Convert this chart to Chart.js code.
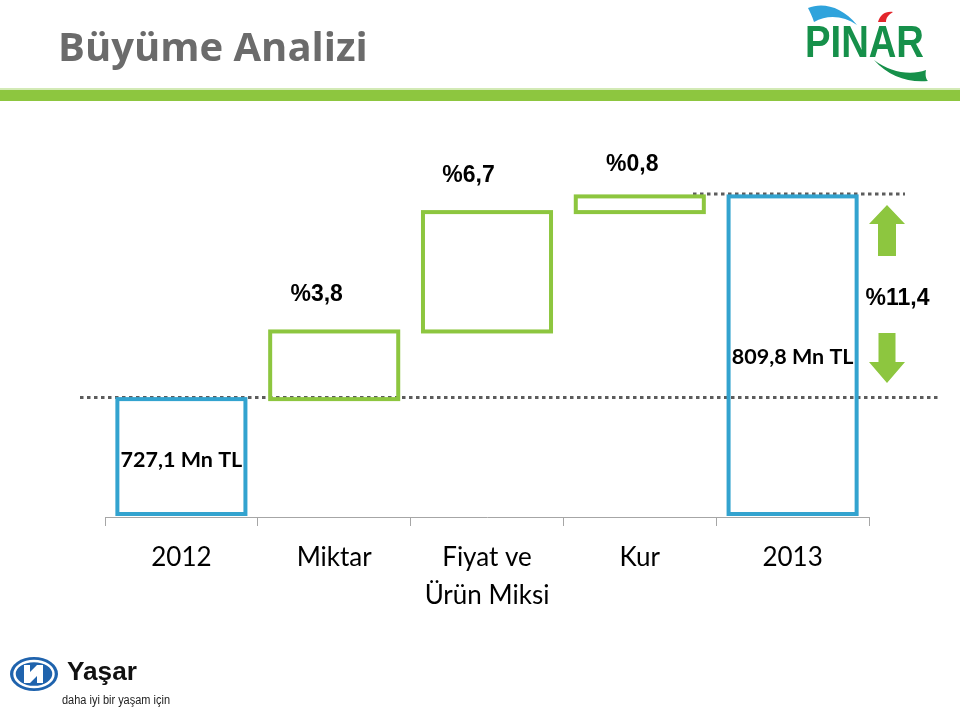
<!DOCTYPE html>
<html>
<head>
<meta charset="utf-8">
<script src="https://cdn.jsdelivr.net/npm/chart.js@4"></script>
<style>
  html, body { margin: 0; padding: 0; background: #fff; width: 960px; height: 707px; overflow: hidden; }
  #wrap { position: relative; width: 960px; height: 707px; }
  #c { position: absolute; left: 0; top: 0; }
  #title { position: absolute; left: 58px; top: 26px; line-height: 40px; font-family: "Open Sans", Lato, sans-serif; font-weight: 700; font-size: 40px; color: #6b6b6b; white-space: nowrap; }
  #band { position: absolute; left: 0; top: 90px; width: 960px; height: 11px; background: #8dc63f; }
  #band2 { position: absolute; left: 0; top: 88px; width: 960px; height: 2px; background: #d3eab6; }
  .logo { position: absolute; }
</style>
</head>
<body>
<div id="wrap">
  <canvas id="c" width="960" height="707"></canvas>
  <div id="band2"></div>
  <div id="band"></div>
  <div id="title">Büyüme Analizi</div>
  <svg class="logo" style="left:800px;top:0px" width="140" height="88" viewBox="0 0 140 88">
    <path d="M8 8 C 22 2, 42 6, 57 25 C 44 16, 28 14, 14 22 C 12 16, 10 12, 8 8 Z" fill="#2fa3dc"/>
    <path d="M78 22 C 80 15, 85 11, 93 12 C 88 15, 86 18, 86 22 Z" fill="#e3262b"/>
    <text x="5" y="57" font-family="Liberation Sans, Arial, sans-serif" font-weight="700" font-size="44" fill="#16904a" textLength="119" lengthAdjust="spacingAndGlyphs">PINAR</text>
    <path d="M74 60 C 90 72, 110 76, 126 70 C 125 75, 126 79, 128 81 C 108 83, 88 76, 74 60 Z" fill="#16904a"/>
  </svg>
  <svg class="logo" style="left:0px;top:648px" width="190" height="59" viewBox="0 0 190 59">
    <ellipse cx="34" cy="26" rx="24" ry="17" fill="#1f63ad"/>
    <ellipse cx="34" cy="26" rx="19.5" ry="13" fill="none" stroke="#fff" stroke-width="2.5"/>
    <path d="M24 17 L30 17 L30 24 L37 17 L43 17 L43 35 L37 35 L37 28 L30 35 L24 35 Z" fill="#fff"/>
    <text x="67" y="32" font-family="Liberation Sans, Arial, sans-serif" font-weight="700" font-size="25" fill="#111" textLength="70" lengthAdjust="spacingAndGlyphs">Yaşar</text>
    <text x="62" y="56" font-family="Liberation Sans, Arial, sans-serif" font-size="12" fill="#222" textLength="108" lengthAdjust="spacingAndGlyphs">daha iyi bir yaşam için</text>
  </svg>
</div>
<script>
// ---- data ----
const categories = [['2012'], ['Miktar'], ['Fiyat ve', 'Ürün Miksi'], ['Kur'], ['2013']];
const barStart   = [679, 727.1, 754.7, 803.4, 679];
const barEnd     = [727.1, 754.7, 803.4, 809.8, 809.8];
const changeLabels = ['', '%3,8', '%6,7', '%0,8', ''];
const totalLabels  = ['727,1 Mn TL', '', '', '', '809,8 Mn TL'];
const growthLabel  = '%11,4';
const startTotal = 727.1;
const endTotal   = 809.8;
const axisMin = 679;
const axisMax = 832;

const BLUE = '#33a3cf';
const GREEN = '#8dc63f';
const barColors = [BLUE, GREEN, GREEN, GREEN, BLUE];

const overlay = {
  id: 'overlay',
  afterDatasetsDraw(chart) {
    const ctx = chart.ctx;
    const y = chart.scales.y;
    const area = chart.chartArea;
    const meta = chart.getDatasetMeta(0);
    ctx.save();

    // dotted reference lines
    ctx.strokeStyle = '#5c5c5c';
    ctx.lineWidth = 3;
    ctx.setLineDash([3.5, 3.5]);
    const y1 = Math.round(y.getPixelForValue(startTotal)) - 1.5;
    ctx.beginPath(); ctx.moveTo(80, y1); ctx.lineTo(938, y1); ctx.stroke();
    const y2 = Math.round(y.getPixelForValue(endTotal)) - 2;
    ctx.beginPath(); ctx.moveTo(693, y2); ctx.lineTo(905, y2); ctx.stroke();
    ctx.setLineDash([]);

    // bar outlines, stroke centred on the bar edges
    ctx.lineWidth = 4;
    ctx.lineJoin = 'miter';
    meta.data.forEach((bar, i) => {
      const top = Math.min(bar.y, bar.base);
      let bottom = Math.max(bar.y, bar.base);
      bottom = Math.min(bottom, area.bottom - 3);
      ctx.strokeStyle = barColors[i];
      ctx.strokeRect(bar.x - bar.width / 2, top, bar.width, bottom - top);
    });

    // change labels
    const dx = [0, -17.5, -18.5, -7.5, 0];
    const dy = [0, -36.5, -36, -32, 0];
    ctx.fillStyle = '#000';
    ctx.textAlign = 'center';
    ctx.textBaseline = 'middle';
    ctx.font = 'bold 23px "Liberation Sans", Arial, sans-serif';
    meta.data.forEach((bar, i) => {
      if (!changeLabels[i]) return;
      const top = Math.min(bar.y, bar.base);
      ctx.fillText(changeLabels[i], bar.x + dx[i], top + dy[i]);
    });

    // total labels
    ctx.font = 'bold 21.5px Lato, "Open Sans", sans-serif';
    meta.data.forEach((bar, i) => {
      if (!totalLabels[i]) return;
      const ty = i === 0 ? y.getPixelForValue(startTotal) + 61 : y.getPixelForValue(startTotal) - 42;
      ctx.fillText(totalLabels[i], bar.x, ty);
    });

    // growth label and arrows
    const ax = 887;
    ctx.font = 'bold 23px "Liberation Sans", Arial, sans-serif';
    ctx.fillText(growthLabel, 897.5, 299);
    ctx.fillStyle = GREEN;
    // up arrow
    ctx.beginPath();
    ctx.moveTo(ax, 205); ctx.lineTo(ax + 18, 224); ctx.lineTo(ax + 9, 224);
    ctx.lineTo(ax + 9, 256); ctx.lineTo(ax - 9, 256); ctx.lineTo(ax - 9, 224);
    ctx.lineTo(ax - 18, 224); ctx.closePath(); ctx.fill();
    // down arrow
    ctx.beginPath();
    ctx.moveTo(ax - 8.5, 333); ctx.lineTo(ax + 8.5, 333); ctx.lineTo(ax + 8.5, 362);
    ctx.lineTo(ax + 18, 362); ctx.lineTo(ax, 383); ctx.lineTo(ax - 18, 362);
    ctx.lineTo(ax - 8.5, 362); ctx.closePath(); ctx.fill();
    ctx.restore();
  }
};

new Chart(document.getElementById('c'), {
  type: 'bar',
  data: {
    labels: categories,
    datasets: [{
      data: barStart.map((s, i) => [s, barEnd[i]]),
      backgroundColor: 'rgba(255,255,255,0)',
      borderColor: barColors,
      borderWidth: 0,
      borderSkipped: false,
      categoryPercentage: 1,
      barPercentage: 0.838
    }]
  },
  options: {
    responsive: false,
    animation: false,
    events: [],
    layout: { padding: { left: 105, right: 91, top: 142, bottom: 0 } },
    plugins: { legend: { display: false }, tooltip: { enabled: false } },
    scales: {
      y: { display: false, min: axisMin, max: axisMax },
      x: {
        afterFit(scale) { scale.height = 190; },
        border: { display: true, color: '#a6a6a6', width: 1 },
        grid: { display: true, drawOnChartArea: false, drawTicks: true, tickLength: 9, color: '#a6a6a6', offset: true },
        ticks: {
          color: '#000',
          padding: 13,
          maxRotation: 0,
          autoSkip: false,
          font: { family: 'Lato, "Open Sans", sans-serif', size: 26, lineHeight: 1.46 }
        }
      }
    }
  },
  plugins: [overlay]
});
</script>
</body>
</html>
